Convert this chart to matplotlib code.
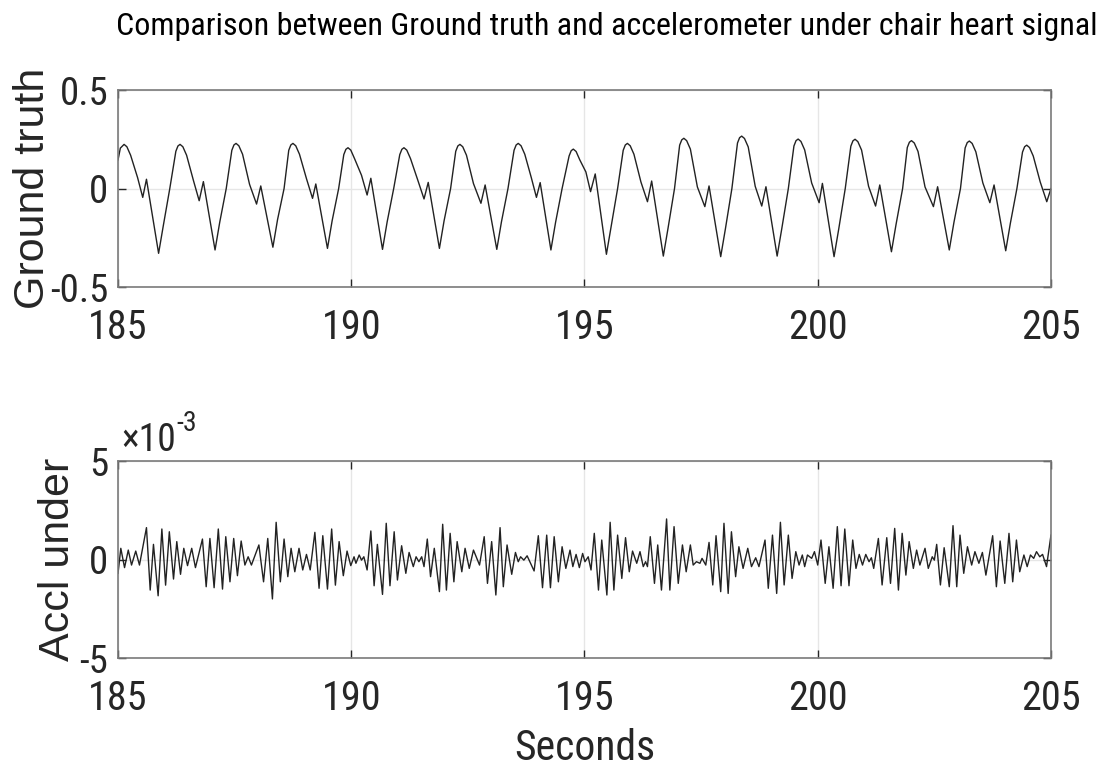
import numpy as np
import matplotlib
matplotlib.use('Agg')
from matplotlib import pyplot as plt
from matplotlib import font_manager as fm

# ground truth heart signal: points, one beat per line
gt_time = [185.00, 185.05, 185.13, 185.19, 185.27, 185.42, 185.53, 185.61, 185.87,
           185.97, 186.11, 186.24, 186.285, 186.33, 186.39, 186.47, 186.62, 186.74, 186.83, 187.08,
           187.18, 187.32, 187.44, 187.485, 187.53, 187.59, 187.67, 187.82, 187.97, 188.06, 188.32,
           188.42, 188.56, 188.66, 188.705, 188.75, 188.81, 188.89, 189.04, 189.17, 189.24, 189.49,
           189.59, 189.73, 189.84, 189.885, 189.93, 189.99, 190.07, 190.22, 190.34, 190.42, 190.67,
           190.77, 190.91, 191.04, 191.085, 191.13, 191.19, 191.27, 191.42, 191.56, 191.65, 191.89,
           191.99, 192.13, 192.24, 192.285, 192.33, 192.39, 192.47, 192.62, 192.78, 192.87, 193.12,
           193.22, 193.36, 193.49, 193.535, 193.58, 193.64, 193.72, 193.86, 193.97, 194.05, 194.28,
           194.38, 194.52, 194.67, 194.715, 194.76, 194.82, 194.90, 195.03, 195.13, 195.23, 195.47,
           195.57, 195.71, 195.83, 195.875, 195.92, 195.98, 196.06, 196.21, 196.35, 196.44, 196.69,
           196.79, 196.93, 197.04, 197.085, 197.13, 197.19, 197.27, 197.42, 197.58, 197.67, 197.92,
           198.02, 198.16, 198.28, 198.325, 198.37, 198.43, 198.51, 198.66, 198.80, 198.89, 199.13,
           199.23, 199.37, 199.49, 199.535, 199.58, 199.64, 199.72, 199.87, 200.03, 200.10, 200.35,
           200.45, 200.59, 200.71, 200.755, 200.80, 200.86, 200.94, 201.09, 201.24, 201.33, 201.58,
           201.68, 201.82, 201.92, 201.965, 202.01, 202.07, 202.15, 202.30, 202.48, 202.57, 202.82,
           202.92, 203.06, 203.16, 203.205, 203.25, 203.31, 203.39, 203.54, 203.69, 203.78, 204.03,
           204.13, 204.27, 204.39, 204.435, 204.48, 204.54, 204.62, 204.77, 204.91, 205.00]
gt_value = [0.145, 0.205, 0.224, 0.212, 0.169, 0.055, -0.045, 0.047, -0.329,
            -0.190, 0.000, 0.189, 0.216, 0.224, 0.212, 0.169, 0.038, -0.062, 0.035, -0.312,
            -0.172, 0.000, 0.194, 0.221, 0.229, 0.217, 0.174, 0.021, -0.079, 0.013, -0.298,
            -0.158, 0.000, 0.194, 0.221, 0.229, 0.217, 0.174, 0.050, -0.050, 0.023, -0.304,
            -0.164, 0.000, 0.172, 0.199, 0.207, 0.195, 0.152, 0.067, -0.033, 0.052, -0.309,
            -0.169, 0.000, 0.172, 0.199, 0.207, 0.195, 0.152, 0.047, -0.053, 0.031, -0.304,
            -0.164, 0.000, 0.189, 0.216, 0.224, 0.212, 0.169, 0.025, -0.075, 0.018, -0.309,
            -0.169, 0.000, 0.194, 0.221, 0.229, 0.217, 0.174, 0.055, -0.045, 0.030, -0.312,
            -0.172, 0.000, 0.165, 0.192, 0.200, 0.188, 0.145, 0.084, -0.016, 0.074, -0.334,
            -0.194, 0.000, 0.194, 0.221, 0.229, 0.217, 0.174, 0.033, -0.067, 0.038, -0.343,
            -0.203, 0.000, 0.220, 0.247, 0.255, 0.243, 0.200, 0.008, -0.092, 0.013, -0.346,
            -0.206, 0.000, 0.231, 0.258, 0.266, 0.254, 0.211, 0.011, -0.089, 0.009, -0.343,
            -0.203, 0.000, 0.216, 0.243, 0.251, 0.239, 0.196, 0.028, -0.072, 0.026, -0.346,
            -0.206, 0.000, 0.215, 0.242, 0.250, 0.238, 0.195, 0.011, -0.089, 0.018, -0.321,
            -0.181, 0.000, 0.208, 0.235, 0.243, 0.231, 0.188, 0.008, -0.092, 0.009, -0.312,
            -0.172, 0.000, 0.206, 0.233, 0.241, 0.229, 0.186, 0.028, -0.072, 0.018, -0.316,
            -0.176, 0.000, 0.185, 0.212, 0.220, 0.208, 0.165, 0.033, -0.067, 0.000]

# accelerometer under chair: turning points of the trace (units of 1e-3)
acc_time = [185.00, 185.06, 185.14, 185.22, 185.29, 185.38, 185.46, 185.61, 185.69, 185.76,
            185.86, 185.94, 186.02, 186.10, 186.19, 186.26, 186.34, 186.41, 186.49, 186.58,
            186.66, 186.81, 186.89, 186.97, 187.06, 187.15, 187.24, 187.31, 187.40, 187.48,
            187.56, 187.64, 187.72, 187.79, 187.86, 188.02, 188.12, 188.21, 188.31, 188.39,
            188.48, 188.56, 188.64, 188.71, 188.79, 188.88, 188.96, 189.04, 189.12, 189.22,
            189.31, 189.39, 189.49, 189.58, 189.66, 189.74, 189.83, 189.91, 189.99, 190.06,
            190.10, 190.17, 190.22, 190.27, 190.34, 190.42, 190.49, 190.56, 190.67, 190.75,
            190.83, 190.92, 190.99, 191.08, 191.17, 191.24, 191.33, 191.39, 191.45, 191.51,
            191.56, 191.63, 191.70, 191.78, 191.89, 191.96, 192.04, 192.12, 192.20, 192.27,
            192.37, 192.44, 192.53, 192.62, 192.75, 192.85, 192.92, 193.01, 193.10, 193.19,
            193.26, 193.34, 193.44, 193.52, 193.58, 193.63, 193.70, 193.77, 193.92, 194.01,
            194.10, 194.19, 194.27, 194.35, 194.44, 194.52, 194.60, 194.69, 194.75, 194.82,
            194.89, 194.96, 195.01, 195.08,
            195.14, 195.21, 195.30, 195.37, 195.48, 195.55, 195.63, 195.71, 195.80, 195.88,
            195.96, 196.03, 196.12, 196.19, 196.26, 196.31, 196.35, 196.41, 196.50, 196.57,
            196.65, 196.76, 196.83, 196.92, 197.01, 197.10, 197.18, 197.27, 197.33, 197.40,
            197.475, 197.52, 197.60, 197.67, 197.75, 197.82, 197.92, 197.99, 198.08, 198.15,
            198.24, 198.31, 198.40, 198.50, 198.58, 198.67, 198.74, 198.87, 198.94, 199.03,
            199.12, 199.20, 199.28, 199.37, 199.45, 199.53, 199.60, 199.67, 199.72, 199.78,
            199.87, 199.93, 200.00,
            200.07, 200.16, 200.24, 200.33, 200.42, 200.50, 200.58, 200.67, 200.75, 200.82,
            200.89, 200.96, 201.03, 201.10, 201.15, 201.20, 201.30, 201.38, 201.48, 201.56,
            201.65, 201.73, 201.81, 201.89, 201.96, 202.05, 202.12, 202.19, 202.30, 202.37,
            202.455, 202.50, 202.55, 202.63, 202.71, 202.82, 202.90, 202.98, 203.05, 203.13,
            203.21, 203.30, 203.37, 203.455, 203.53, 203.605, 203.75, 203.83, 203.91, 204.01,
            204.10, 204.18, 204.26, 204.33, 204.42, 204.49, 204.56, 204.63, 204.69, 204.76,
            204.82, 204.905, 205.00]
acc_value = [-0.70, 0.57, -0.41, 0.48, -0.28, 0.43, -0.28, 1.62, -1.55, 0.77,
             -1.84, 1.55, -1.30, 1.41, -0.99, 0.91, -0.75, 0.57, -0.31, 0.57,
             -0.41, 1.04, -1.38, 1.07, -1.43, 1.55, -1.50, 1.16, -1.13, 1.07,
             -0.82, 0.94, -0.28, 0.14, -0.28, 0.74, -1.13, 1.07, -2.00, 1.89,
             -1.13, 1.04, -0.87, 0.57, -0.62, 0.57, -0.53, 0.26, -0.53, 1.38,
             -1.46, 1.21, -1.50, 1.55, -1.30, 0.91, -0.82, 0.43, -0.31, 0.14,
             -0.19, 0.23, -0.03, 0.14, -0.53, 1.45, -1.33, 0.77, -1.77, 1.84,
             -1.33, 1.41, -1.04, 0.70, -0.70, 0.36, -0.36, 0.14, -0.11, 0.14,
             -0.36, 1.04, -0.87, 0.57, -1.63, 1.79, -1.55, 1.33, -1.13, 0.91,
             -0.62, 0.57, -0.45, 0.48, -0.28, 1.16, -1.21, 0.91, -1.80, 1.62,
             -1.38, 0.74, -0.75, 0.36, -0.11, 0.14, -0.03, 0.19, -0.58, 1.21,
             -1.43, 1.24, -1.43, 1.16, -1.13, 0.65, -0.45, 0.48, -0.36, 0.26,
             -0.41, 0.31, -0.11, 0.14,
             -0.53, 1.33, -1.55, 0.99, -1.80, 1.89, -1.55, 1.24, -0.96, 1.11,
             -0.62, 0.43, -0.19, 0.40, -0.36, -0.11, -0.36, 1.16, -1.21, 0.74,
             -1.55, 2.06, -1.55, 1.67, -1.21, 0.74, -0.62, 0.74, -0.28, -0.11,
             -0.19, 0.06, -0.28, 0.87, -1.29, 1.21, -1.63, 1.84, -1.72, 1.41,
             -0.87, 0.65, -0.45, 0.57, -0.36, 0.09, -0.36, 0.99, -1.46, 1.24,
             -1.72, 1.89, -1.29, 1.24, -0.96, 0.40, -0.28, 0.23, -0.36, 0.23,
             0.06, 0.40, -0.28,
             0.99, -1.21, 0.65, -1.46, 1.67, -1.33, 1.55, -1.33, 0.99, -0.45,
             0.26, -0.28, 0.26, -0.11, 0.09, -0.45, 1.07, -1.29, 1.11, -1.21,
             1.58, -1.55, 1.33, -0.79, 0.91, -0.45, 0.48, -0.28, 0.57, -0.45,
             0.14, -0.03, 0.77, -1.29, 0.60, -1.38, 1.72, -1.38, 1.24, -0.70,
             0.65, -0.28, 0.40, -0.19, 0.36, -0.79, 1.21, -1.38, 0.94, -1.21,
             1.33, -1.13, 0.99, -0.62, 0.23, -0.36, 0.23, 0.06, 0.40, 0.14,
             0.26, -0.36, 1.24]

x_ticks = [185, 190, 195, 200, 205]
gt_yticks = ['-0.5', '0', '0.5']
acc_yticks = ['-5', '0', '5']
title = 'Comparison between Ground truth and accelerometer under chair heart signal'


def pick_narrow():
    # look for any condensed / narrow sans face that is installed
    prefs = ['Liberation Sans Narrow', 'Roboto Condensed', 'Open Sans Condensed',
             'Noto Sans Condensed', 'DejaVu Sans Condensed', 'Lato Condensed']
    found = {}
    for f in fm.fontManager.ttflist:
        nm = f.name
        cond = ('Narrow' in nm or 'Condensed' in nm or 'ondensed' in str(f.stretch)
                or 'arrow' in f.fname or 'ondensed' in f.fname)
        if cond and f.style == 'normal' and f.weight in (400, 'normal', 'regular'):
            found.setdefault(nm, f.fname)
    for p in prefs:
        if p in found:
            return fm.FontProperties(fname=found[p]), True
    if found:
        return fm.FontProperties(fname=list(found.values())[0]), True
    return fm.FontProperties(family=['Liberation Sans', 'DejaVu Sans']), False


narrow_fp, is_narrow = pick_narrow()
k = 1.0 if is_narrow else 0.82   # shrink if only a normal-width face exists

plt.rcParams['axes.unicode_minus'] = False
wide = ['Liberation Sans', 'DejaVu Sans']
txt_col = '#262626'


def nfont(size):
    fp = narrow_fp.copy()
    fp.set_size(size)
    return fp


fig = plt.figure(figsize=(11.05, 7.78), dpi=100)
ax1 = fig.add_axes([0.1068, 0.6311, 0.8443, 0.2532])
ax2 = fig.add_axes([0.1068, 0.1542, 0.8443, 0.2532])

ax1.plot(gt_time, gt_value, color='#222222', lw=1.0)
ax2.plot(acc_time, np.array(acc_value) * 1e-3, color='#222222', lw=1.0)

ax1.set_ylim(-0.5, 0.5)
ax1.set_yticks([-0.5, 0, 0.5])
ax1.set_yticklabels(gt_yticks)
ax2.set_ylim(-5e-3, 5e-3)
ax2.set_yticks([-5e-3, 0, 5e-3])
ax2.set_yticklabels(acc_yticks)

for ax in (ax1, ax2):
    ax.set_xlim(185, 205)
    ax.set_xticks(x_ticks)
    ax.set_xticklabels([str(v) for v in x_ticks])
    ax.grid(True, color='#e6e6e6', lw=1.0)
    ax.set_axisbelow(True)
    for s in ax.spines.values():
        s.set_color('#7a7a7a')
        s.set_linewidth(1.2)
    ax.tick_params(direction='in', length=6, width=1, color='#262626',
                   top=True, right=True, labelcolor=txt_col)
    ax.tick_params(axis='x', pad=15)
    ax.tick_params(axis='y', pad=7)
    for lab in ax.get_xticklabels():
        lab.set_fontproperties(nfont(29 * k))
    for lab in ax.get_yticklabels():
        lab.set_fontproperties(nfont(28 * k))

# x10^-3 factor above the lower axes
t1 = ax2.text(0.004, 1.05, '\u00d710', transform=ax2.transAxes, ha='left',
              va='baseline', color=txt_col, fontproperties=nfont(27 * k))
ax2.annotate('-3', xy=(1.0, 0.6), xycoords=t1, ha='left', va='bottom',
             color=txt_col, fontproperties=nfont(20 * k))

ax1.set_ylabel('Ground truth', fontsize=31, family=wide, color=txt_col)
ax1.yaxis.set_label_coords(-0.07, 0.5)
ax2.set_ylabel('Accl under', fontsize=31, family=wide, color=txt_col)
ax2.yaxis.set_label_coords(-0.043, 0.5)

ax2.set_xlabel('Seconds', color=txt_col, fontproperties=nfont(30 * k))
ax2.xaxis.set_label_coords(0.5, -0.355)

# title, fitted to the width it takes in the reference
tt = fig.text(607 / 1105, 1 - 35 / 778, title, ha='center', va='baseline',
              color='black', fontproperties=nfont(23))
r = fig.canvas.get_renderer()
w = tt.get_window_extent(r).width
if w > 988:
    tt.set_fontsize(23 * 988 / w)

fig.savefig('out.png', dpi=100)
